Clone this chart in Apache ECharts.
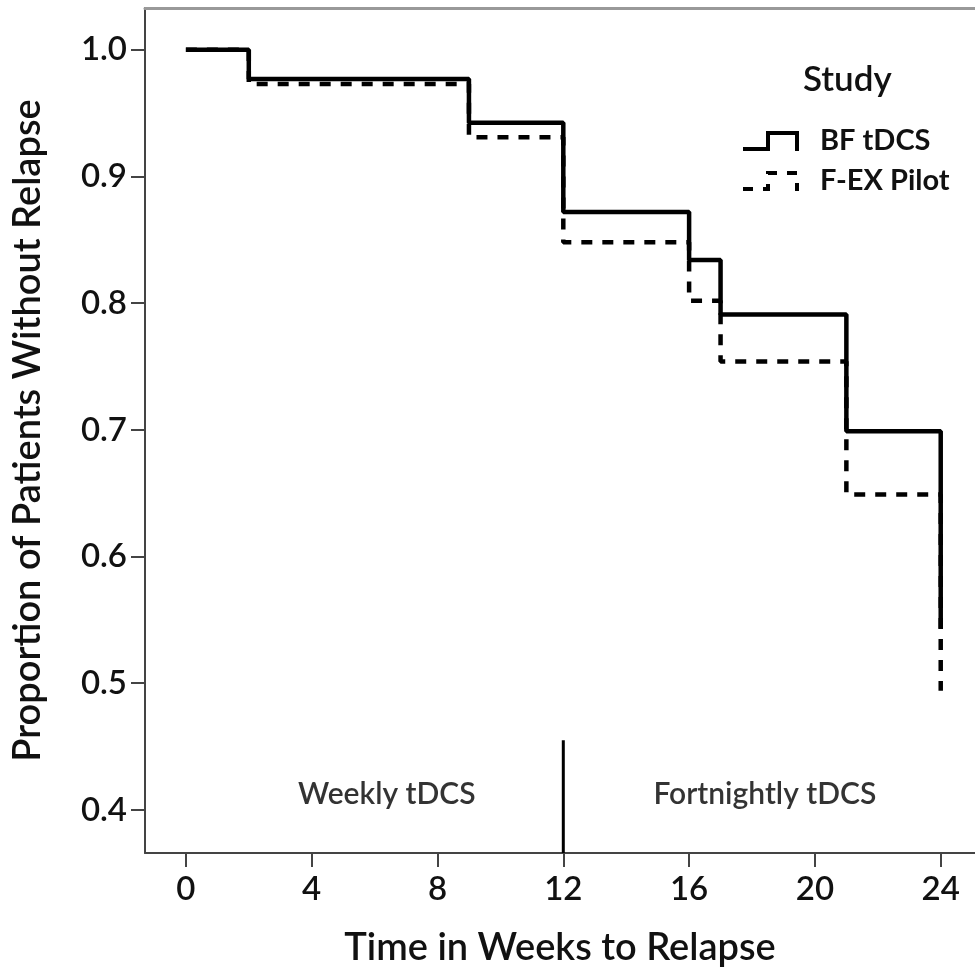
<!DOCTYPE html>
<html>
<head>
<meta charset="utf-8">
<script src="https://cdn.jsdelivr.net/npm/echarts@6/dist/echarts.min.js"></script>
<style>html,body{margin:0;padding:0;background:#fff}#c{width:975px;height:974px}</style>
</head>
<body>
<div id="c"></div>
<script>
// Data
var bfWeeks = [0, 2, 9, 12, 16, 17, 21, 24];
var bfSurv  = [1.0, 0.977, 0.9425, 0.872, 0.834, 0.791, 0.699, 0.543];
var fexWeeks = [0, 2, 9, 12, 16, 17, 21, 24];
var fexSurv  = [1.0, 0.973, 0.931, 0.848, 0.802, 0.754, 0.649, 0.494];
var xTicks = [0, 4, 8, 12, 16, 20, 24];
var yTicks = [0.4, 0.5, 0.6, 0.7, 0.8, 0.9, 1.0];
var dividerX = [12, 12];
var dividerY = [0.455, 0.366];
var phaseLabels = ['Weekly tDCS', 'Fortnightly tDCS'];
var phaseX = [6.39, 18.41];
var phaseY = [0.412, 0.412];
var seriesNames = ['BF tDCS', 'F-EX Pilot'];

var FONT = 'Lato';
var X_MIN = -1.3, X_MAX = 25.09, Y_MIN = 0.366, Y_MAX = 1.033;

function zip(a, b) { return a.map(function (v, i) { return [v, b[i]]; }); }

var chart = echarts.init(document.getElementById('c'), null, {renderer: 'canvas'});
chart.setOption({
  animation: false,
  backgroundColor: '#fff',
  grid: {left: 145, top: 8, right: 0, bottom: 121},
  xAxis: [{
    type: 'value', min: X_MIN, max: X_MAX,
    name: 'Time in Weeks to Relapse', nameLocation: 'middle', nameGap: 76,
    nameTextStyle: {fontFamily: FONT, fontSize: 38, fontWeight: 600, color: '#111'},
    axisLine: {show: true, onZero: false, lineStyle: {color: '#444', width: 2}},
    axisTick: {show: true, length: 14, inside: false, customValues: xTicks, lineStyle: {color: '#444', width: 2}},
    axisLabel: {show: true, customValues: xTicks, margin: 20, fontFamily: FONT, fontSize: 33, fontWeight: 600, color: '#111'},
    splitLine: {show: false}
  }, {
    type: 'value', position: 'top', min: X_MIN, max: X_MAX,
    axisLine: {show: true, onZero: false, lineStyle: {color: '#999', width: 3}},
    axisTick: {show: false}, axisLabel: {show: false}, splitLine: {show: false}
  }],
  yAxis: {
    type: 'value', min: Y_MIN, max: Y_MAX,
    name: 'Proportion of Patients Without Relapse', nameLocation: 'middle', nameGap: 98,
    nameTextStyle: {fontFamily: FONT, fontSize: 38, fontWeight: 600, color: '#111'},
    axisLine: {show: true, onZero: false, lineStyle: {color: '#444', width: 2}},
    axisTick: {show: true, length: 14, customValues: yTicks, lineStyle: {color: '#444', width: 2}},
    axisLabel: {show: true, customValues: yTicks, margin: 18, fontFamily: FONT, fontSize: 33, fontWeight: 600, color: '#111',
      formatter: function (v) { return v.toFixed(1); }},
    splitLine: {show: false}
  },
  series: [{
    name: seriesNames[1], type: 'line', step: 'end', data: zip(fexWeeks, fexSurv),
    symbol: 'none', lineStyle: {color: '#000', width: 4.5, type: [11, 10]}
  }, {
    name: seriesNames[0], type: 'line', step: 'end', data: zip(bfWeeks, bfSurv),
    symbol: 'none', lineStyle: {color: '#000', width: 4.5, type: 'solid'}
  }, {
    type: 'line', data: zip(dividerX, dividerY), symbol: 'none',
    lineStyle: {color: '#000', width: 3}
  }, {
    type: 'scatter', symbolSize: 0, data: zip(phaseX, phaseY).map(function (p, i) {
      return {value: p, label: {show: true, formatter: phaseLabels[i], position: 'inside',
        fontFamily: FONT, fontSize: 30, fontWeight: 600, color: '#000', textBorderWidth: 0}};
    })
  }],
  graphic: [
    {type: 'text', left: 803, top: 62, style: {text: 'Study', font: '600 35px ' + FONT, fill: '#111'}},
    {type: 'polyline', shape: {points: [[743, 149], [768, 149], [768, 133], [797, 133], [797, 151]]},
      style: {stroke: '#000', lineWidth: 4, fill: null}},
    {type: 'polyline', shape: {points: [[743, 189], [768, 189], [768, 173], [797, 173], [797, 191]]},
      style: {stroke: '#000', lineWidth: 4, fill: null, lineDash: [10, 10]}},
    {type: 'text', left: 820, top: 126, style: {text: seriesNames[0], font: 'bold 29px ' + FONT, fill: '#111'}},
    {type: 'text', left: 820, top: 166, style: {text: seriesNames[1], font: 'bold 29px ' + FONT, fill: '#111'}}
  ]
});
</script>
</body>
</html>
